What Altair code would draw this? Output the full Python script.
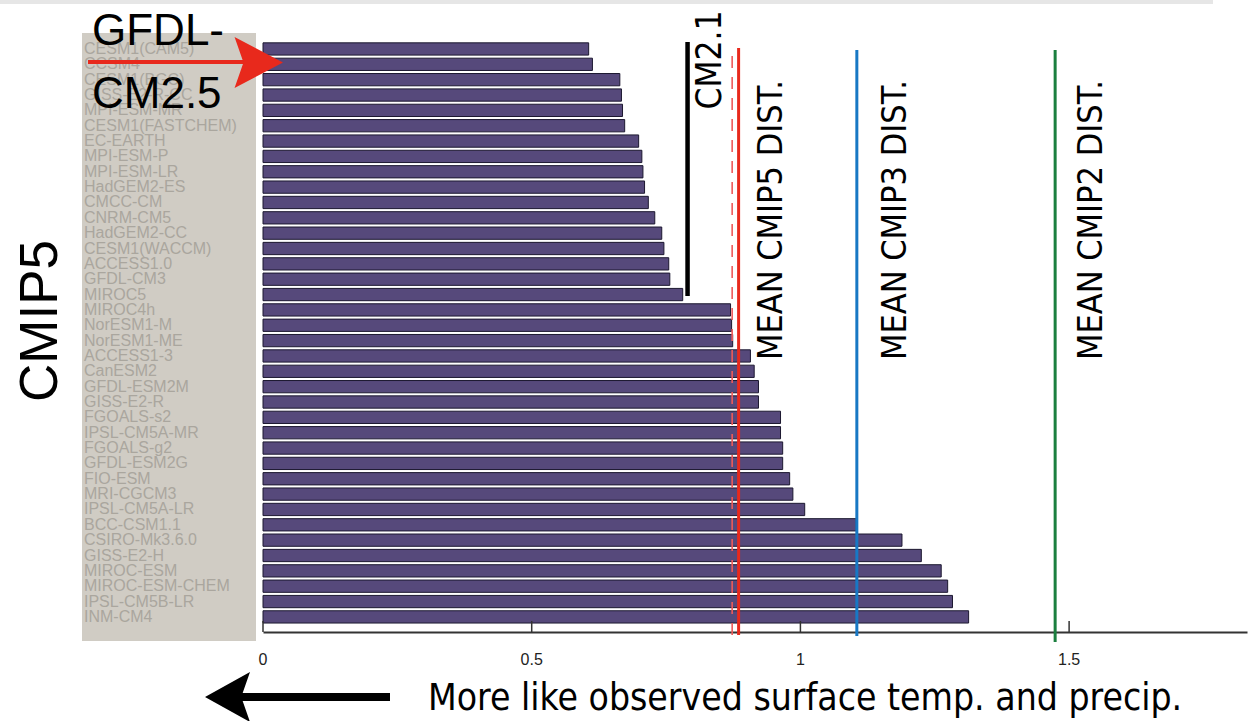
import altair as alt
import pandas as pd

# ---------------- data ----------------
models = [
    "CESM1(CAM5)", "CCSM4", "CESM1(BGC)", "GISS-E2-R-CC", "MPI-ESM-MR",
    "CESM1(FASTCHEM)", "EC-EARTH", "MPI-ESM-P", "MPI-ESM-LR", "HadGEM2-ES",
    "CMCC-CM", "CNRM-CM5", "HadGEM2-CC", "CESM1(WACCM)", "ACCESS1.0",
    "GFDL-CM3", "MIROC5", "MIROC4h", "NorESM1-M", "NorESM1-ME",
    "ACCESS1-3", "CanESM2", "GFDL-ESM2M", "GISS-E2-R", "FGOALS-s2",
    "IPSL-CM5A-MR", "FGOALS-g2", "GFDL-ESM2G", "FIO-ESM", "MRI-CGCM3",
    "IPSL-CM5A-LR", "BCC-CSM1.1", "CSIRO-Mk3.6.0", "GISS-E2-H", "MIROC-ESM",
    "MIROC-ESM-CHEM", "IPSL-CM5B-LR", "INM-CM4",
]
values = [
    0.606, 0.613, 0.664, 0.667, 0.669,
    0.673, 0.699, 0.705, 0.707, 0.710,
    0.717, 0.729, 0.742, 0.746, 0.755,
    0.757, 0.781, 0.870, 0.872, 0.874,
    0.907, 0.914, 0.922, 0.922, 0.963,
    0.963, 0.967, 0.967, 0.980, 0.986,
    1.008, 1.104, 1.189, 1.225, 1.262,
    1.274, 1.283, 1.313,
]
ref_labels = ["CM2.1", "", "MEAN CMIP5 DIST.", "MEAN CMIP3 DIST.", "MEAN CMIP2 DIST."]
ref_values = [0.790, 0.873, 0.885, 1.105, 1.474]
tick_values = [0, 0.5, 1, 1.5]
tick_labels = ["0", "0.5", "1", "1.5"]
x_max = 1.831

bars_df = pd.DataFrame({"model": models, "value": values})
ticks_df = pd.DataFrame({"t": tick_values, "lab": tick_labels})

W, H = 984, 592
FONT = "Liberation Sans"
NARROW = "Liberation Sans Narrow, DejaVu Sans Condensed, Liberation Sans, sans-serif"

xscale = alt.Scale(domain=[0, x_max], nice=False, zero=True)
yscale = alt.Scale(paddingInner=0.2, paddingOuter=0.384, align=0.24)


def x_axis():
    return alt.Axis(
        values=tick_values,
        ticks=False,
        labels=False,
        grid=False,
        title=None,
        domainColor="#333333",
        domainWidth=2,
    )


def one(name):
    return alt.Chart(pd.DataFrame({"k": [name]}))


# background decorations
top_band = one("band").mark_rect(color="#e6e6e6").encode(
    x=alt.value(-263), x2=alt.value(950), y=alt.value(-40), y2=alt.value(-36)
)
label_bg = one("bg").mark_rect(color="#d0ccc4").encode(
    x=alt.value(-181), x2=alt.value(-7), y=alt.value(-7), y2=alt.value(601)
)

base = alt.Chart(bars_df)

model_labels = base.mark_text(
    align="left", baseline="middle", font=FONT, fontSize=16, color="#aaa69e"
).encode(
    y=alt.Y("model:N", sort=models, scale=yscale, axis=None),
    x=alt.value(-179),
    text="model:N",
)

bars = base.mark_bar(color="#56497b", stroke="#1c1830", strokeWidth=1).encode(
    x=alt.X("value:Q", scale=xscale, axis=x_axis()),
    y=alt.Y(
        "model:N",
        sort=models,
        scale=yscale,
        axis=alt.Axis(labels=False, ticks=False, title=None, grid=False,
                      domainColor="#222222", domainWidth=1.5),
    ),
)

ticks = alt.Chart(ticks_df).mark_rule(color="#333333", strokeWidth=1.5).encode(
    x=alt.X("t:Q", scale=xscale, axis=x_axis()), y=alt.value(581), y2=alt.value(592)
)
tick_text = alt.Chart(ticks_df).mark_text(
    align="center", baseline="middle", font=FONT, fontSize=16, color="#222222"
).encode(x=alt.X("t:Q", scale=xscale, axis=x_axis()), y=alt.value(620), text="lab:N")


def vline(v, color, width, y0, y1, dash=None):
    kw = dict(color=color, strokeWidth=width)
    if dash:
        kw["strokeDash"] = dash
    return alt.Chart(pd.DataFrame({"v": [v]})).mark_rule(**kw).encode(
        x=alt.X("v:Q", scale=xscale, axis=x_axis()), y=alt.value(y0), y2=alt.value(y1)
    )


line_cm21 = vline(ref_values[0], "#000000", 4.5, 2, 256)
line_dash = vline(ref_values[1], "#ee5a5a", 1.6, 16, 596, [12, 9])
line_c5 = vline(ref_values[2], "#e8291c", 3, 8, 595)
line_c3 = vline(ref_values[3], "#1878c4", 3, 10, 596)
line_c2 = vline(ref_values[4], "#1b7f3f", 3, 10, 602)


def rot_text(txt, x, y, size, font):
    return one(txt).mark_text(
        angle=270, align="center", baseline="middle", font=font, fontSize=size,
        color="#000000",
    ).encode(x=alt.value(x), y=alt.value(y), text=alt.value(txt))


t_cm21 = rot_text(ref_labels[0], 447, 20, 35, NARROW)
t_c5 = rot_text(ref_labels[2], 509, 180, 34, NARROW)
t_c3 = rot_text(ref_labels[3], 633, 180, 34, NARROW)
t_c2 = rot_text(ref_labels[4], 829, 180, 34, NARROW)
t_cmip5 = rot_text("CMIP5", -222, 281, 53, FONT)


def htext(txt, x, y, size, font=FONT):
    return one(txt).mark_text(
        align="left", baseline="alphabetic", font=font, fontSize=size, color="#000000"
    ).encode(x=alt.value(x), y=alt.value(y), text=alt.value(txt))


t_gfdl = htext("GFDL-", -171, 5, 44)
t_cm25 = htext("CM2.5", -171, 68, 44)
t_bottom = htext("More like observed surface temp. and precip.", 165, 670, 37, NARROW)

# red arrow
red_shaft = one("rs").mark_rule(color="#e8291c", strokeWidth=4).encode(
    x=alt.value(-175), x2=alt.value(-15), y=alt.value(22)
)
red_head = one("rh").mark_point(
    shape="M 1 0 L -0.9 -1 L -0.55 0 L -0.9 1 Z", size=2600, filled=True,
    color="#e8291c", opacity=1, strokeWidth=0,
).encode(x=alt.value(-5.5), y=alt.value(22.5))

# black arrow
blk_shaft = one("bs").mark_rule(color="#000000", strokeWidth=8).encode(
    x=alt.value(-40), x2=alt.value(127), y=alt.value(657)
)
blk_head = one("bh").mark_point(
    shape="M -1 0 L 0.8 -1 L 0.45 0 L 0.8 1 Z", size=2500, filled=True,
    color="#000000", opacity=1, strokeWidth=0,
).encode(x=alt.value(-33), y=alt.value(657))

chart = alt.layer(
    top_band, label_bg, model_labels, bars, ticks, tick_text,
    line_cm21, line_dash, line_c5, line_c3, line_c2,
    t_cm21, t_c5, t_c3, t_c2, t_cmip5, t_gfdl, t_cm25, t_bottom,
    red_shaft, red_head, blk_shaft, blk_head,
).properties(
    width=W, height=H,
    autosize=alt.AutoSizeParams(type="none"),
    padding={"left": 263, "top": 40, "right": 8, "bottom": 89},
    background="#ffffff",
).configure_view(stroke=None)

chart.save("out.html", embed_options={"renderer": "svg", "actions": False})
